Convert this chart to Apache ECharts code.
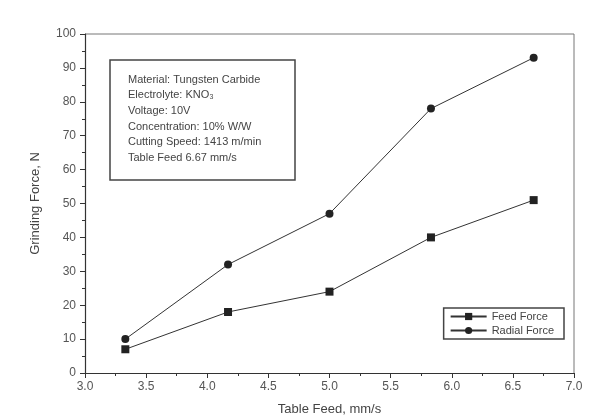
<!DOCTYPE html>
<html>
<head>
<meta charset="utf-8">
<script src="https://cdn.jsdelivr.net/npm/echarts@6/dist/echarts.min.js"></script>
<style>
  html, body { margin: 0; padding: 0; background: #fff; }
</style>
</head>
<body>
<div id="main" style="width: 592px;height:417px;"></div>
<script>
// data
var tableFeed = [3.33, 4.17, 5.0, 5.83, 6.67]
var feedForce = [7, 18, 24, 40, 51]
var radialForce = [10, 32, 47, 78, 93]
var noteLines = [
  'Material: Tungsten Carbide',
  'Electrolyte: KNO₃',
  'Voltage: 10V',
  'Concentration: 10% W/W',
  'Cutting Speed: 1413 m/min',
  'Table Feed 6.67 mm/s'
]

var ink = '#333'
var font = 'Liberation Sans'

function pairs (xs, ys) {
  return xs.map(function (x, i) { return [x, ys[i]] })
}

var myChart = echarts.init(document.getElementById('main'))

var option = {
  backgroundColor: '#fff',
  animation: false,
  textStyle: { fontFamily: font },
  // keep the plot box where the picture has it, labels may sit outside
  grid: { left: 85, right: 18, top: 34, bottom: 44, outerBoundsMode: 'none', containLabel: false },
  xAxis: {
    type: 'value',
    min: 3.0,
    max: 7.0,
    interval: 0.5,
    name: 'Table Feed, mm/s',
    nameLocation: 'middle',
    nameGap: 30,
    nameTextStyle: { color: '#444', fontSize: 13 },
    axisLine: { onZero: false, lineStyle: { color: ink, width: 1.2 } },
    axisTick: { inside: false, length: 5, lineStyle: { color: ink } },
    minorTick: { show: true, splitNumber: 2, length: 3, lineStyle: { color: ink } },
    axisLabel: { color: '#555', fontSize: 12, margin: 8, formatter: function (v) { return v.toFixed(1) } },
    splitLine: { show: false }
  },
  yAxis: {
    type: 'value',
    min: 0,
    max: 100,
    interval: 10,
    name: 'Grinding Force, N',
    nameLocation: 'middle',
    nameGap: 43,
    nameTextStyle: { color: '#444', fontSize: 13 },
    axisLine: { show: true, lineStyle: { color: ink, width: 1.2 } },
    axisTick: { show: true, length: 5, lineStyle: { color: ink } },
    minorTick: { show: true, splitNumber: 2, length: 3, lineStyle: { color: ink } },
    axisLabel: { color: '#555', fontSize: 12, margin: 9 },
    splitLine: { show: false }
  },
  legend: {
    right: 28,
    top: 308,
    orient: 'vertical',
    itemGap: 3,
    itemWidth: 36,
    itemHeight: 9,
    padding: [3, 10, 3, 6],
    borderColor: '#444',
    borderWidth: 1.5,
    textStyle: { color: '#444', fontSize: 11 },
    data: ['Feed Force', 'Radial Force']
  },
  series: [
    {
      name: 'Feed Force',
      type: 'line',
      data: pairs(tableFeed, feedForce),
      symbol: 'rect',
      symbolSize: 8,
      lineStyle: { color: ink, width: 1 },
      itemStyle: { color: '#222' }
    },
    {
      name: 'Radial Force',
      type: 'line',
      data: pairs(tableFeed, radialForce),
      symbol: 'circle',
      symbolSize: 8,
      lineStyle: { color: ink, width: 1 },
      itemStyle: { color: '#222' }
    }
  ],
  graphic: [
    // top and right frame lines
    { type: 'line', shape: { x1: 85, y1: 34, x2: 574, y2: 34 }, style: { stroke: '#777', lineWidth: 1 } },
    { type: 'line', shape: { x1: 574, y1: 34, x2: 574, y2: 373 }, style: { stroke: '#777', lineWidth: 1 } },
    // note box
    {
      type: 'rect',
      shape: { x: 110, y: 60, width: 185, height: 120 },
      style: { fill: '#fff', stroke: '#444', lineWidth: 1.5 }
    },
    {
      type: 'text',
      left: 128,
      top: 72,
      style: {
        text: noteLines.join('\n'),
        fill: '#444',
        font: '11px ' + font,
        lineHeight: 15.6
      }
    }
  ]
}

myChart.setOption(option)
</script>
</body>
</html>
